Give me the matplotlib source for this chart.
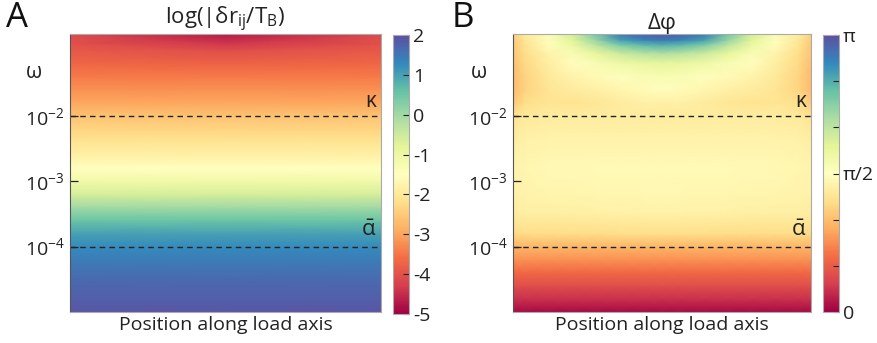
import matplotlib
matplotlib.use("Agg")
import matplotlib.pyplot as plt
import numpy as np

plt.rcParams["font.family"] = ["Open Sans", "DejaVu Sans"]
plt.rcParams["mathtext.fontset"] = "custom"
plt.rcParams["mathtext.rm"] = "Open Sans"
plt.rcParams["mathtext.it"] = "Open Sans:italic"

# log10(omega) grid for panel A and its row values (same across position, except top rows)
logw_a = [-5.0, -4.8, -4.5, -4.2, -4.0, -3.8, -3.6, -3.4, -3.2, -3.0, -2.8,
          -2.6, -2.4, -2.2, -2.0, -1.8, -1.6, -1.4, -1.2, -1.0, -0.9, -0.75]
pos_a = [0.0, 0.5, 1.0]
center_a = [1.9, 1.8, 1.65, 1.45, 1.25, 1.0, 0.55, 0.0, -0.6, -1.1, -1.5,
            -1.85, -2.1, -2.35, -2.6, -2.95, -3.2, -3.45, -3.75, -4.05, -4.35, -4.7]
edge_a = [1.9, 1.8, 1.65, 1.45, 1.25, 1.0, 0.55, 0.0, -0.6, -1.1, -1.5,
          -1.85, -2.1, -2.35, -2.6, -2.95, -3.2, -3.45, -3.7, -3.9, -4.0, -4.1]

# panel B: phase lag, rows of log10(omega), columns across half the load axis (mirrored)
logw_b = [-5.0, -4.8, -4.6, -4.4, -4.2, -4.0, -3.8, -3.5, -3.2, -2.8, -2.4,
          -2.0, -1.8, -1.6, -1.4, -1.2, -1.05, -0.92, -0.84, -0.75]
pos_b_half = [0.0, 0.04, 0.12, 0.2, 0.28, 0.36, 0.44, 0.5]
dphi_half = [
    [0.06, 0.06, 0.06, 0.06, 0.06, 0.06, 0.06, 0.06],
    [0.25, 0.25, 0.25, 0.25, 0.25, 0.25, 0.25, 0.25],
    [0.42, 0.42, 0.42, 0.42, 0.42, 0.42, 0.42, 0.42],
    [0.6, 0.6, 0.6, 0.6, 0.6, 0.6, 0.6, 0.6],
    [0.8, 0.8, 0.8, 0.8, 0.8, 0.8, 0.8, 0.8],
    [1.0, 1.0, 1.0, 1.0, 1.0, 1.0, 1.0, 1.0],
    [1.22, 1.24, 1.25, 1.25, 1.25, 1.26, 1.26, 1.26],
    [1.38, 1.4, 1.4, 1.41, 1.42, 1.42, 1.43, 1.43],
    [1.43, 1.46, 1.47, 1.47, 1.48, 1.48, 1.49, 1.49],
    [1.45, 1.48, 1.5, 1.5, 1.51, 1.52, 1.52, 1.52],
    [1.4, 1.44, 1.45, 1.45, 1.46, 1.46, 1.46, 1.46],
    [1.3, 1.35, 1.38, 1.38, 1.38, 1.38, 1.38, 1.38],
    [1.1, 1.26, 1.32, 1.3, 1.33, 1.38, 1.42, 1.42],
    [1.02, 1.18, 1.32, 1.38, 1.42, 1.48, 1.53, 1.55],
    [1.02, 1.18, 1.35, 1.45, 1.52, 1.6, 1.65, 1.67],
    [1.05, 1.22, 1.4, 1.55, 1.66, 1.76, 1.82, 1.85],
    [1.08, 1.25, 1.45, 1.65, 1.85, 2.02, 2.12, 2.15],
    [1.1, 1.3, 1.55, 1.8, 2.1, 2.4, 2.55, 2.6],
    [1.12, 1.32, 1.6, 1.9, 2.3, 2.7, 2.85, 2.9],
    [1.15, 1.38, 1.65, 2.0, 2.45, 2.9, 3.05, 3.08],
]

log_ticks = [-4, -3, -2]
log_tick_labels = ["$10^{-4}$", "$10^{-3}$", "$10^{-2}$"]
kappa_line = -2
alpha_line = -4

W, H = 878, 343
fig = plt.figure(figsize=(W / 100, H / 100), dpi=100)

ax_a = fig.add_axes([70 / W, 1 - 312 / H, 311 / W, 278 / H])
cax_a = fig.add_axes([393 / W, 1 - 314 / H, 16 / W, 279 / H])
ax_b = fig.add_axes([513 / W, 1 - 312 / H, 298 / W, 278 / H])
cax_b = fig.add_axes([823 / W, 1 - 312 / H, 16 / W, 277 / H])

grid_a = np.column_stack([edge_a, center_a, edge_a])
m_a = ax_a.pcolormesh(pos_a, logw_a, grid_a, shading="gouraud",
                      cmap="Spectral", vmin=-5, vmax=2, rasterized=True)

half = np.array(dphi_half)
grid_b = np.hstack([half, half[:, -2::-1]])
pos_b = pos_b_half + [1 - p for p in pos_b_half[-2::-1]]
m_b = ax_b.pcolormesh(pos_b, logw_b, grid_b, shading="gouraud",
                      cmap="Spectral", vmin=0, vmax=np.pi, rasterized=True)

for ax, m in [(ax_a, m_a), (ax_b, m_b)]:
    ax.set_xlim(0, 1)
    ax.set_ylim(-5, -0.75)
    ax.set_xticks([])
    ax.set_yticks(log_ticks)
    ax.set_yticklabels(log_tick_labels)
    ax.tick_params(axis="y", direction="in", length=6, width=0.9,
                   labelsize=14, pad=4, colors="#222222")
    for side in ["top", "right", "bottom"]:
        ax.spines[side].set_color("#aaaaaa")
        ax.spines[side].set_linewidth(0.8)
    ax.spines["left"].set_color("#555555")
    ax.spines["left"].set_linewidth(0.8)
    ax.axhline(kappa_line, color="#222222", ls=(0, (4, 3)), lw=1)
    ax.axhline(alpha_line, color="#222222", ls=(0, (4, 3)), lw=1)
    ax.text(0.985, kappa_line + 0.22, "κ", ha="right", va="center",
            fontsize=15, color="#222222", transform=ax.get_yaxis_transform())
    ax.text(0.985, alpha_line + 0.25, r"$\mathregular{\bar{α}}$", ha="right",
            va="center", fontsize=16, color="#222222",
            transform=ax.get_yaxis_transform())
    ax.set_xlabel("Position along load axis", fontsize=14, labelpad=3,
                  color="#222222")
    ax.text(-0.115, 0.86, "ω", transform=ax.transAxes, ha="center",
            va="center", fontsize=15, color="#222222")

ax_a.set_title(r"$\mathregular{log(|δr_{ij}/T_B)}$", fontsize=16, pad=3,
               color="#222222")
ax_b.set_title("Δφ", fontsize=16, pad=3, color="#222222")

cb_a = fig.colorbar(m_a, cax=cax_a, ticks=[-5, -4, -3, -2, -1, 0, 1, 2])
cb_a.ax.set_yticklabels(["-5", "-4", "-3", "-2", "-1", "0", "1", "2"])
cb_b = fig.colorbar(m_b, cax=cax_b,
                    ticks=[k * np.pi / 6 for k in range(7)])
cb_b.ax.set_yticklabels(["0", "", "", "π/2", "", "", "π"])
for cb in [cb_a, cb_b]:
    cb.ax.tick_params(direction="in", length=4, width=0.8, labelsize=14,
                      pad=3, colors="#222222")
    cb.outline.set_edgecolor("#aaaaaa")
    cb.outline.set_linewidth(0.8)
    cb.solids.set_rasterized(True)

fig.text(17 / W, 1 - 18 / H, "A", fontsize=25, ha="center", va="center",
         color="#111111")
fig.text(463 / W, 1 - 18 / H, "B", fontsize=25, ha="center", va="center",
         color="#111111")

fig.savefig("out.png", dpi=100)
